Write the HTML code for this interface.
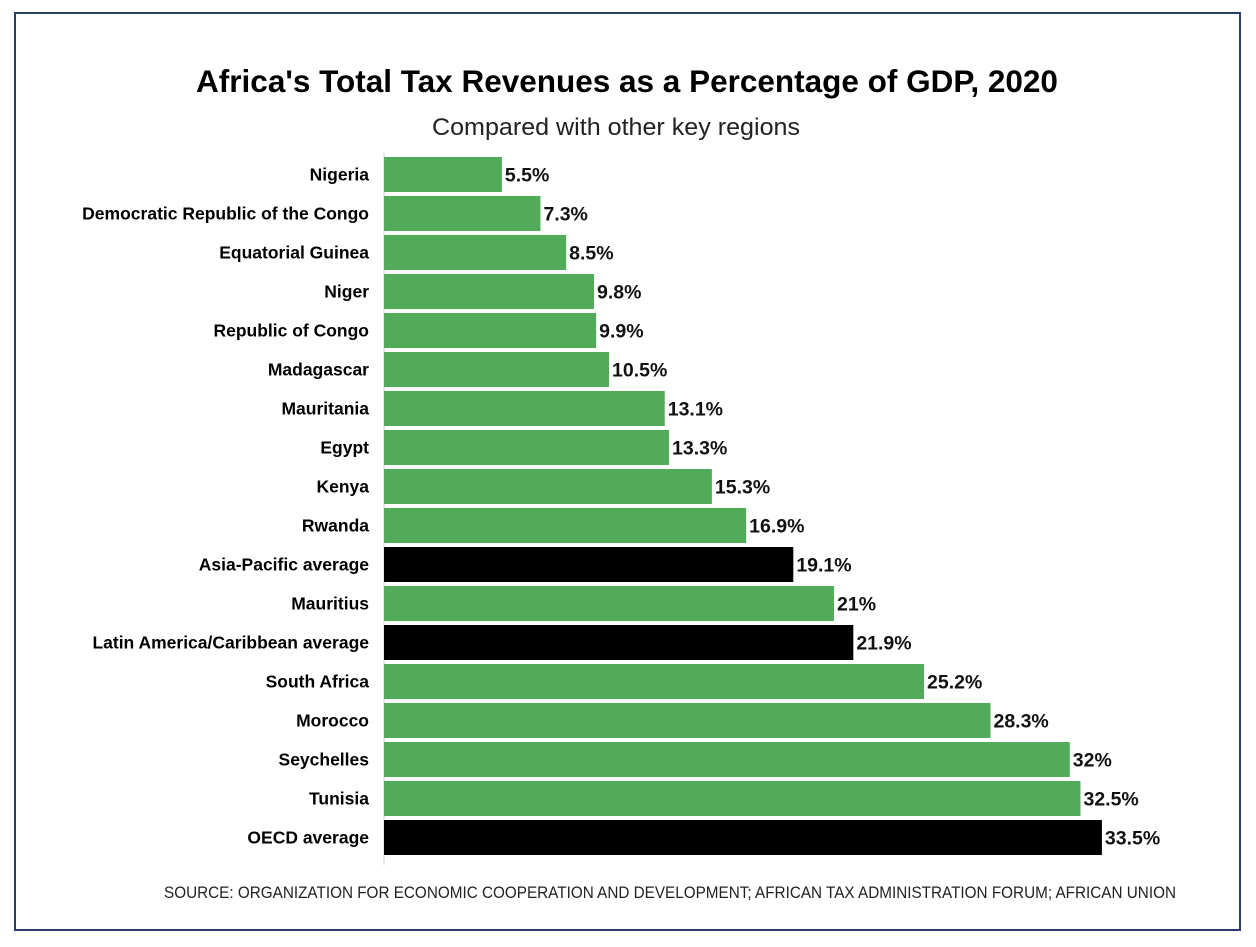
<!DOCTYPE html>
<html><head><meta charset="utf-8"><style>
body{margin:0;background:#fff;width:1256px;height:942px;overflow:hidden;font-family:"Liberation Sans",sans-serif}
</style></head><body>
<svg width="1256" height="942">
<rect x="15" y="13" width="1225" height="917" fill="#fff" stroke="#2b3d68" stroke-width="2"/>
<text x="627" y="92" text-anchor="middle" font-size="31.5" font-weight="bold">Africa's Total Tax Revenues as a Percentage of GDP, 2020</text>
<text x="616" y="135" text-anchor="middle" font-size="24" fill="#222" textLength="368" lengthAdjust="spacingAndGlyphs">Compared with other key regions</text>
<line x1="384" y1="153" x2="384" y2="865" stroke="#ccc" stroke-width="1"/>
<g id="bars"></g>
<text x="670" y="898" text-anchor="middle" font-size="17" fill="#222" textLength="1012" lengthAdjust="spacingAndGlyphs">SOURCE: ORGANIZATION FOR ECONOMIC COOPERATION AND DEVELOPMENT; AFRICAN TAX ADMINISTRATION FORUM; AFRICAN UNION</text>
</svg>
<script>
const categories=["Nigeria","Democratic Republic of the Congo","Equatorial Guinea","Niger","Republic of Congo","Madagascar","Mauritania","Egypt","Kenya","Rwanda","Asia-Pacific average","Mauritius","Latin America/Caribbean average","South Africa","Morocco","Seychelles","Tunisia","OECD average"];
const values=[5.5,7.3,8.5,9.8,9.9,10.5,13.1,13.3,15.3,16.9,19.1,21,21.9,25.2,28.3,32,32.5,33.5];
const labels=["5.5%","7.3%","8.5%","9.8%","9.9%","10.5%","13.1%","13.3%","15.3%","16.9%","19.1%","21%","21.9%","25.2%","28.3%","32%","32.5%","33.5%"];
const isAverage=[0,0,0,0,0,0,0,0,0,0,1,0,1,0,0,0,0,1];
const x0=384,k=21.43,y0=157,step=39,bh=35;
const xs=v=>x0+v*k, ys=i=>y0+i*step;
const g=document.getElementById('bars');
const NS="http://www.w3.org/2000/svg";
categories.forEach((c,i)=>{
  const r=document.createElementNS(NS,'rect');
  r.setAttribute('x',x0);r.setAttribute('y',ys(i));
  r.setAttribute('width',xs(values[i])-x0);r.setAttribute('height',bh);
  r.setAttribute('fill',isAverage[i]?'#000':'#52ab58');
  
  
  g.appendChild(r);
  const t=document.createElementNS(NS,'text');
  t.setAttribute('x',369);t.setAttribute('y',ys(i)+bh/2+6);
  t.setAttribute('text-anchor','end');t.setAttribute('font-size','17.5');t.setAttribute('font-weight','bold');
  t.textContent=c;
  
  
  g.appendChild(t);
  const v=document.createElementNS(NS,'text');
  v.setAttribute('x',xs(values[i])+3);v.setAttribute('y',ys(i)+bh/2+7);
  v.setAttribute('font-size','19.5');v.setAttribute('font-weight','bold');v.setAttribute('fill','#111');
  v.textContent=labels[i];
  
  
  g.appendChild(v);
});
</script>
</body></html>
